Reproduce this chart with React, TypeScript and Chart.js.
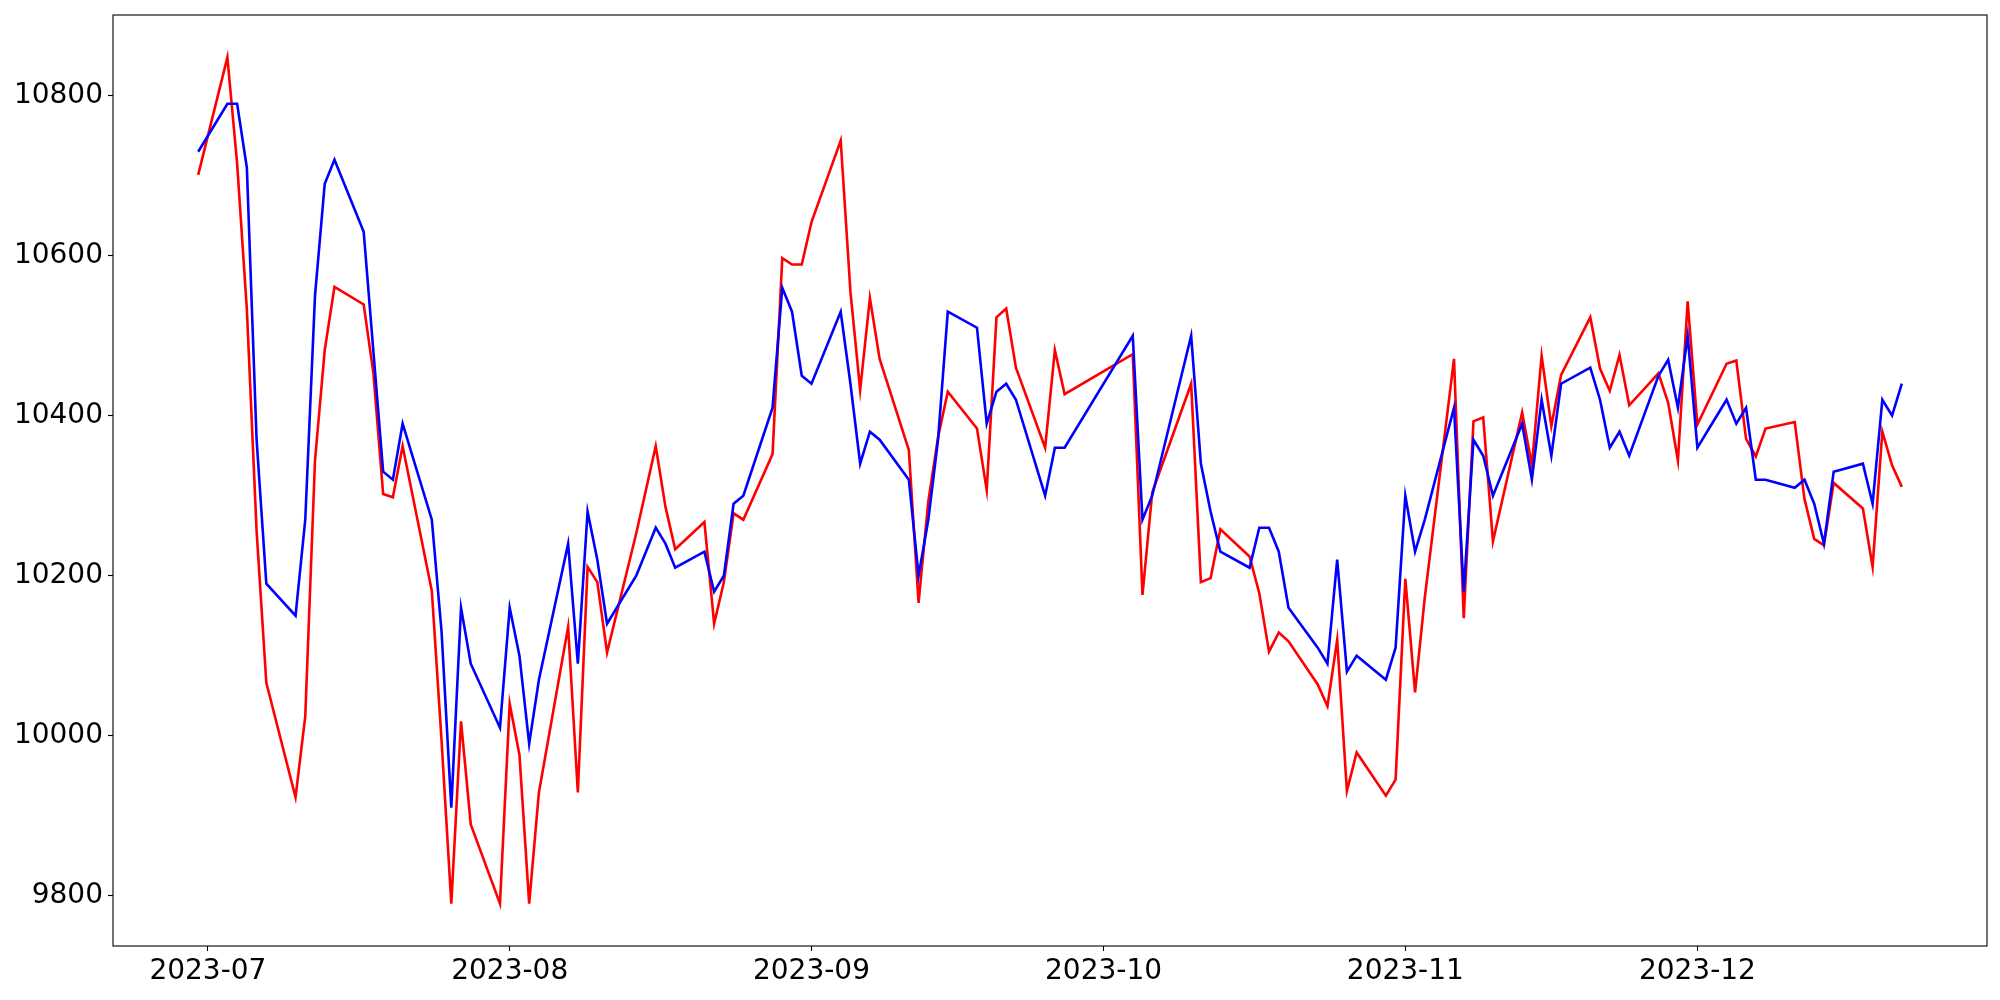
import React, { useEffect, useRef } from "react";
import { Chart, registerables } from "chart.js";

Chart.register(...registerables);

const DATES = [
  "2023-06-30",
  "2023-07-03", "2023-07-04", "2023-07-05", "2023-07-06", "2023-07-07",
  "2023-07-10", "2023-07-11", "2023-07-12", "2023-07-13", "2023-07-14",
  "2023-07-17", "2023-07-18", "2023-07-19", "2023-07-20", "2023-07-21",
  "2023-07-24", "2023-07-25", "2023-07-26", "2023-07-27", "2023-07-28",
  "2023-07-31",
  "2023-08-01", "2023-08-02", "2023-08-03", "2023-08-04",
  "2023-08-07", "2023-08-08", "2023-08-09", "2023-08-10", "2023-08-11",
  "2023-08-14", "2023-08-16", "2023-08-17", "2023-08-18",
  "2023-08-21", "2023-08-22", "2023-08-23", "2023-08-24", "2023-08-25",
  "2023-08-28", "2023-08-29", "2023-08-30", "2023-08-31",
  "2023-09-01",
  "2023-09-04", "2023-09-05", "2023-09-06", "2023-09-07", "2023-09-08",
  "2023-09-11", "2023-09-12", "2023-09-13", "2023-09-14", "2023-09-15",
  "2023-09-18", "2023-09-19", "2023-09-20", "2023-09-21", "2023-09-22",
  "2023-09-25", "2023-09-26", "2023-09-27",
  "2023-10-04", "2023-10-05", "2023-10-06",
  "2023-10-10", "2023-10-11", "2023-10-12", "2023-10-13",
  "2023-10-16", "2023-10-17", "2023-10-18", "2023-10-19", "2023-10-20",
  "2023-10-23", "2023-10-24", "2023-10-25", "2023-10-26", "2023-10-27",
  "2023-10-30", "2023-10-31",
  "2023-11-01", "2023-11-02", "2023-11-03",
  "2023-11-06", "2023-11-07", "2023-11-08", "2023-11-09", "2023-11-10",
  "2023-11-13", "2023-11-14", "2023-11-15", "2023-11-16", "2023-11-17",
  "2023-11-20", "2023-11-21", "2023-11-22", "2023-11-23", "2023-11-24",
  "2023-11-27", "2023-11-28", "2023-11-29", "2023-11-30",
  "2023-12-01",
  "2023-12-04", "2023-12-05", "2023-12-06", "2023-12-07", "2023-12-08",
  "2023-12-11", "2023-12-12", "2023-12-13", "2023-12-14", "2023-12-15",
  "2023-12-18", "2023-12-19", "2023-12-20", "2023-12-21", "2023-12-22",
];

const BLUE_SERIES = [
  10730,
  10790, 10790, 10710, 10370, 10190,
  10150, 10270, 10550, 10690, 10720,
  10630, 10480, 10330, 10320, 10390,
  10270, 10130, 9910, 10160, 10090,
  10010,
  10160, 10100, 9990, 10070,
  10240, 10090, 10280, 10220, 10140,
  10200, 10260, 10240, 10210,
  10230, 10180, 10200, 10290, 10300,
  10410, 10560, 10530, 10450,
  10440,
  10530, 10440, 10340, 10380, 10370,
  10320, 10200, 10270, 10370, 10530,
  10510, 10390, 10430, 10440, 10420,
  10300, 10360, 10360,
  10500, 10270, 10300,
  10500, 10340, 10280, 10230,
  10210, 10260, 10260, 10230, 10160,
  10110, 10090, 10220, 10080, 10100,
  10070, 10110,
  10300, 10230, 10270,
  10410, 10180, 10370, 10350, 10300,
  10390, 10320, 10420, 10350, 10440,
  10460, 10420, 10360, 10380, 10350,
  10450, 10470, 10410, 10500,
  10360,
  10420, 10390, 10410, 10320, 10320,
  10310, 10320, 10290, 10240, 10330,
  10340, 10290, 10420, 10400, 10440,
];

const RED_SERIES = [
  10701,
  10848, 10715, 10533, 10256, 10066,
  9923, 10024, 10344, 10482, 10561,
  10539, 10453, 10302, 10298, 10362,
  10181, 9994, 9790, 10018, 9889,
  9790,
  10040, 9976, 9790, 9929,
  10136, 9929, 10211, 10192, 10104,
  10253, 10362, 10286, 10233,
  10267, 10140, 10192, 10278, 10270,
  10352, 10597, 10589, 10589,
  10642,
  10744, 10555, 10432, 10547, 10471,
  10357, 10166, 10293, 10373, 10430,
  10384, 10307, 10523, 10534, 10460,
  10360, 10482, 10427,
  10477, 10176, 10304,
  10440, 10192, 10197, 10258,
  10224, 10178, 10105, 10129, 10118,
  10064, 10037, 10120, 9931, 9979,
  9925, 9945,
  10196, 10054, 10173,
  10471, 10147, 10393, 10398, 10243,
  10404, 10338, 10475, 10387, 10451,
  10523, 10459, 10431, 10476, 10413,
  10453, 10416, 10344, 10543,
  10389,
  10465, 10469, 10371, 10349, 10384,
  10392, 10296, 10246, 10238, 10316,
  10284, 10211, 10380, 10338, 10311,
];

const X_TICK_LABELS = ["2023-07", "2023-08", "2023-09", "2023-10", "2023-11", "2023-12"];
const Y_TICKS = [9800, 10000, 10200, 10400, 10600, 10800];

const toDay = (s: string) => Date.parse(s + "T00:00:00Z") / 86400000;

const framePlugin = {
  id: "frame",
  afterDatasetsDraw(chart: any) {
    const { ctx, chartArea } = chart;
    ctx.save();
    ctx.strokeStyle = "#000";
    ctx.lineWidth = 1.1;
    ctx.strokeRect(chartArea.left, chartArea.top, chartArea.right - chartArea.left, chartArea.bottom - chartArea.top);
    ctx.restore();
  },
};

export default function App() {
  const ref = useRef<HTMLCanvasElement | null>(null);

  useEffect(() => {
    if (!ref.current) return;
    const xs = DATES.map(toDay);
    const xSpan = xs[xs.length - 1] - xs[0];
    const all = [...BLUE_SERIES, ...RED_SERIES];
    const lo = Math.min(...all);
    const hi = Math.max(...all);
    const ySpan = hi - lo;
    const font = { family: "DejaVu Sans", size: 28 };
    const grid = {
      display: true,
      drawOnChartArea: false,
      drawTicks: true,
      tickLength: 5,
      tickWidth: 1.1,
      tickColor: "#000",
      color: "#000",
    };

    const chart = new Chart(ref.current, {
      type: "line",
      data: {
        datasets: [
          {
            label: "blue",
            data: xs.map((x, i) => ({ x, y: BLUE_SERIES[i] })),
            borderColor: "#0000ff",
            borderWidth: 2.6,
            pointRadius: 0,
            tension: 0,
            fill: false,
          },
          {
            label: "red",
            data: xs.map((x, i) => ({ x, y: RED_SERIES[i] })),
            borderColor: "#ff0000",
            borderWidth: 2.6,
            pointRadius: 0,
            tension: 0,
            fill: false,
          },
        ],
      },
      options: {
        responsive: false,
        animation: false,
        devicePixelRatio: 1,
        layout: { padding: { top: 15, right: 13, left: 0, bottom: 0 } },
        plugins: { legend: { display: false }, tooltip: { enabled: false } },
        scales: {
          x: {
            type: "linear",
            min: xs[0] - 0.05 * xSpan,
            max: xs[xs.length - 1] + 0.05 * xSpan,
            grid,
            border: { display: false },
            afterBuildTicks: (scale: any) => {
              scale.ticks = X_TICK_LABELS.map((l) => ({ value: toDay(l + "-01") }));
            },
            afterFit: (scale: any) => {
              scale.height = 54;
              scale.paddingLeft = 0;
              scale.paddingRight = 0;
            },
            ticks: {
              font,
              color: "#000",
              padding: 4,
              maxRotation: 0,
              autoSkip: false,
              callback: (_v: any, i: number) => X_TICK_LABELS[i],
            },
          },
          y: {
            type: "linear",
            min: lo - 0.05 * ySpan,
            max: hi + 0.05 * ySpan,
            grid,
            border: { display: false },
            afterBuildTicks: (scale: any) => {
              scale.ticks = Y_TICKS.map((v) => ({ value: v }));
            },
            afterFit: (scale: any) => {
              scale.width = 113;
              scale.paddingTop = 0;
              scale.paddingBottom = 0;
            },
            ticks: {
              font,
              color: "#000",
              padding: 5,
              autoSkip: false,
              callback: (v: any) => String(v),
            },
          },
        },
      },
      plugins: [framePlugin],
    } as any);

    return () => chart.destroy();
  }, []);

  return (
    <canvas
      ref={ref}
      width={2000}
      height={1000}
      style={{ position: "fixed", left: 0, top: 0, width: 2000, height: 1000 }}
    />
  );
}
